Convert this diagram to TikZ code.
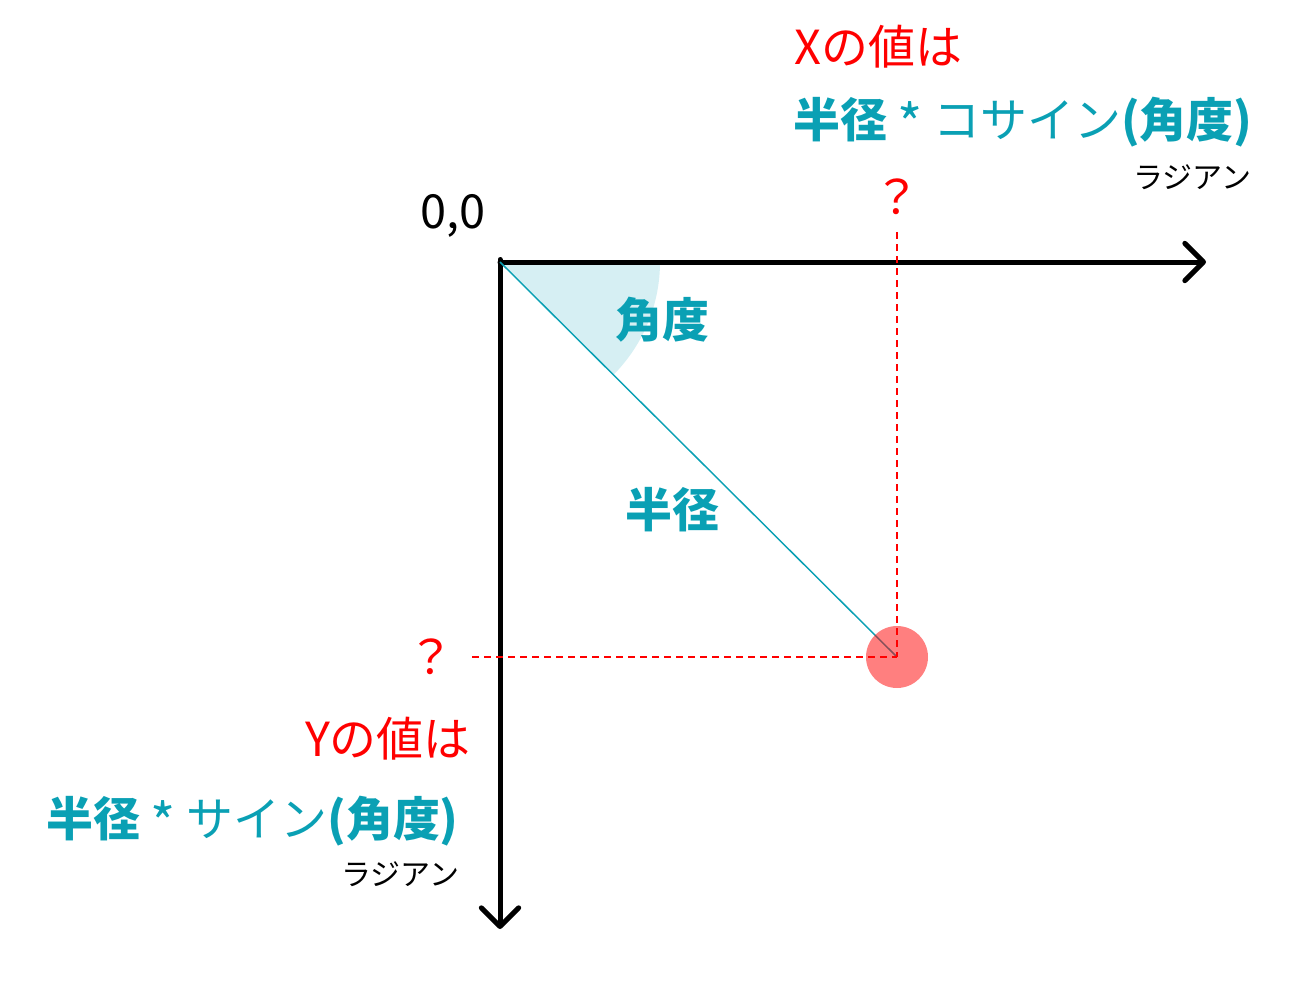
\documentclass[tikz,border=0pt]{standalone}
\usepackage{fontspec}
\usepackage{graphicx}
\setmainfont{Noto Sans CJK JP}
\usetikzlibrary{arrows.meta}
\definecolor{teal}{HTML}{0AA0B4}
\definecolor{wedgec}{HTML}{D6EFF3}
\definecolor{redc}{HTML}{FF0000}
\newcommand{\mystar}{\raisebox{-0.16em}{\scalebox{1.15}{*}}}
\tikzset{
  axis/.style={line width=3.75pt, line cap=round, -{Straight Barb[length=14pt,width=28pt,line cap=round,line join=round]}},
  guide/.style={redc, line width=1.3pt, dash pattern=on 5.25pt off 3.75pt},
  big/.style={font=\fontsize{35.2pt}{41pt}\selectfont, inner sep=0pt},
  small/.style={font=\fontsize{22.5pt}{26pt}\selectfont, inner sep=0pt},
}
\begin{document}
\begin{tikzpicture}[x=0.75pt,y=-0.75pt]
\useasboundingbox (0,0) rectangle (1296,1002);
\coordinate (O) at (500,262);
\coordinate (xend) at (1206,262);
\coordinate (ytop) at (500,259.5);
\coordinate (yend) at (500,929);
\coordinate (P) at (897,657);
\coordinate (vtop) at (897,232);
\coordinate (hleft) at (472,657);
% angle wedge
\fill[wedgec] (O) -- ++(120pt,0pt) arc[start angle=0,end angle=-45,radius=120pt] -- cycle;
% axes
\draw[axis] (O) -- (xend);
\draw[axis] (ytop) -- (yend);
% radius line
\draw[teal, line width=1.1pt] (O) -- (P);
% point
\node[circle, fill=redc, fill opacity=0.5, minimum size=46.5pt, inner sep=0pt] (pt) at (P) {};
% guides
\draw[guide] (vtop) -- (P);
\draw[guide] (hleft) -- (P);
% labels
\node[big, text=redc, anchor=west] (xval) at (794,47) {Xの値は};
\node[big, text=teal, anchor=west] (xform) at (793,122) {\bfseries 半径\mdseries{} \mystar{} コサイン\bfseries (角度)};
\node[small, anchor=east] (xrad) at (1252,177) {ラジアン};
\node[big, text=redc] (xq) at (897,197) {？};
\node[big] (zero) at (453,216) {0,0};
\node[big, text=teal] (angle) at (662,320) {\bfseries 角度};
\node[big, text=teal] (radius) at (672,510) {\bfseries 半径};
\node[big, text=redc] (yq) at (431,657) {？};
\node[big, text=redc, anchor=east] (yval) at (471,739) {Yの値は};
\node[big, text=teal, anchor=east] (yform) at (459,821) {\bfseries 半径\mdseries{} \mystar{} サイン\bfseries (角度)};
\node[small, anchor=east] (yrad) at (460,874) {ラジアン};
\end{tikzpicture}
\end{document}
